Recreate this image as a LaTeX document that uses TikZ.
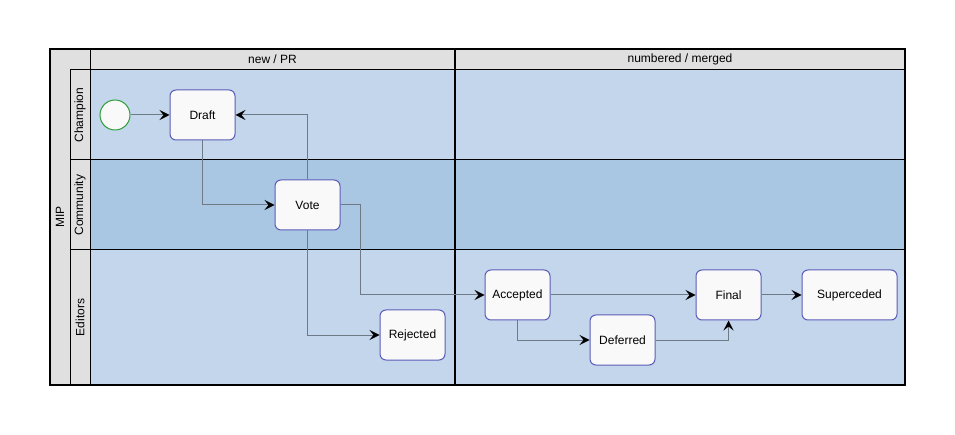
\documentclass[tikz,border=0pt]{standalone}
\usepackage{fontspec}
\setmainfont{Liberation Sans}
\usepackage{tikz}
\usetikzlibrary{arrows.meta,positioning}
\definecolor{lanelight}{HTML}{C4D6EC}
\definecolor{lanedark}{HTML}{A9C6E2}
\definecolor{stripgray}{HTML}{E0E0E0}
\definecolor{boxline}{HTML}{5C5CB8}
\definecolor{boxfill}{HTML}{F9F9F9}
\definecolor{edgegray}{HTML}{6E7B87}
\definecolor{startgreen}{HTML}{2E9E3A}
\tikzstyle{state}=[draw=boxline,fill=boxfill,line width=1pt,rounded corners=6pt,minimum width=65pt,minimum height=50pt,inner sep=0pt,font=\fontsize{12}{14}\selectfont]
\tikzstyle{start}=[circle,draw=startgreen,fill=boxfill,line width=1pt,minimum size=30pt,inner sep=0pt]
\tikzstyle{post}=[draw=edgegray,line width=1pt,-{Stealth[black,length=10pt,width=10pt,inset=4pt]}]
\tikzstyle{lbl}=[font=\fontsize{12}{14}\selectfont]
\begin{document}
\begin{tikzpicture}[x=1pt,y=-1pt]
    \useasboundingbox[fill=white] (0,0) rectangle (955,435);
    % lanes
    \fill[lanelight] (90,70) rectangle (905,160);
    \fill[lanedark] (90,160) rectangle (905,250);
    \fill[lanelight] (90,250) rectangle (905,385);
    \fill[stripgray] (50,49) rectangle (90,385);
    \fill[stripgray] (90,49) rectangle (905,70);
    \draw[line width=1pt] (70,70) -- (70,385);
    \draw[line width=1pt] (70,70) -- (905,70);
    \draw[line width=1pt] (70,160) -- (905,160);
    \draw[line width=1pt] (70,250) -- (905,250);
    \draw[line width=1pt] (90,49) -- (90,385);
    \draw[line width=1.5pt] (455,49) -- (455,385);
    \draw[line width=1.5pt] (50,49) rectangle (905,385);
    \node[lbl,rotate=90] (mip) at (60,217) {MIP};
    \node[lbl,rotate=90] (champ) at (80,115) {Champion};
    \node[lbl,rotate=90] (comm) at (80,205) {Community};
    \node[lbl,rotate=90] (edit) at (80,317.5) {Editors};
    \node[lbl] (colA) at (272.5,59.5) {new / PR};
    \node[lbl] (colB) at (680,59.5) {numbered / merged};

    \node (S) [start] at (115,115) {};
    \node (D) [state] at (202.5,115) {Draft};
    \node (V) [state] at (307.5,205) {Vote};
    \node (R) [state] at (412.5,335) {Rejected};
    \node (A) [state] at (517.5,295) {Accepted};
    \node (E) [state] at (622.5,340) {Deferred};
    \node (F) [state] [right=145pt of A] {Final};
    \node (P) [state,minimum width=95pt] [right=40pt of F] {Superceded};

    \draw[post] (S) -- (D);
    \draw[post] (D.south) |- (V.west);
    \draw[post] (V.north) |- (D.east);
    \draw[post] (V.east) -- (360,205) |- (A.west);
    \draw[post] (V.south) |- (R.west);
    \draw[post] (A) -- (F);
    \draw[post] (A.south) |- (E.west);
    \draw[post] (E.east) -| (F.south);
    \draw[post] (F) -- (P);
\end{tikzpicture}
\end{document}
